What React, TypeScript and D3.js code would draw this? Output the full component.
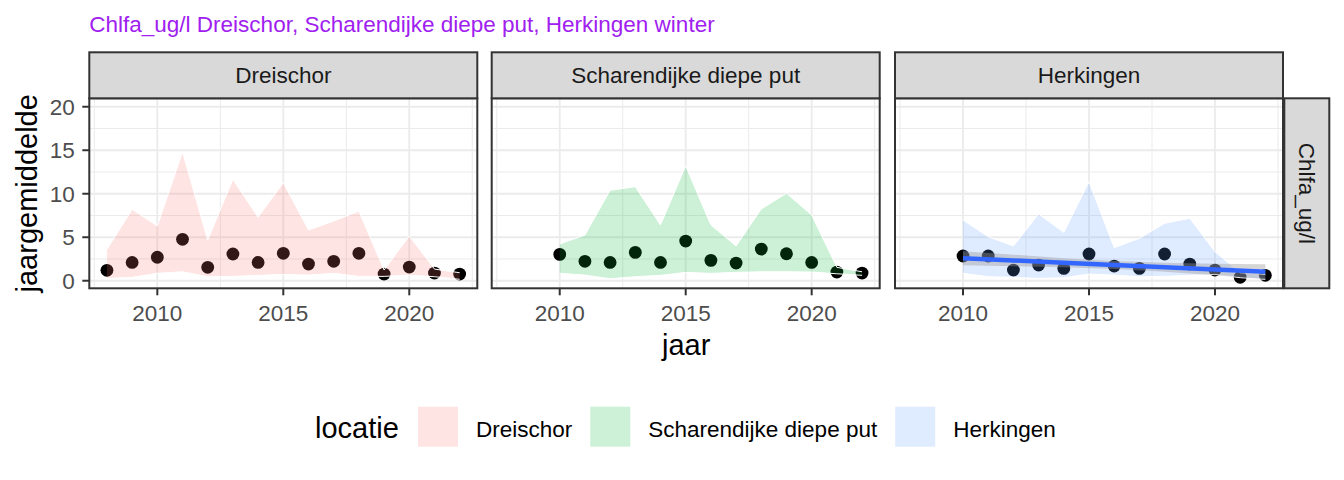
import React from "react";
import * as d3 from "d3";

// ---------- data ----------
const locations = ["Dreischor", "Scharendijke diepe put", "Herkingen"];
const locationColors = ["#F8766D", "#00BA38", "#619CFF"];

const dreischorYears = [2008, 2009, 2010, 2011, 2012, 2013, 2014, 2015, 2016, 2017, 2018, 2019, 2020, 2021, 2022];
const dreischorMean = [1.2, 2.1, 2.7, 4.76, 1.54, 3.07, 2.1, 3.15, 1.92, 2.23, 3.15, 0.77, 1.57, 0.88, 0.77];
const dreischorMax = [3.6, 8.2, 6.3, 14.8, 4.68, 11.65, 7.3, 11.27, 5.83, 6.86, 8.0, 1.23, 5.14, 1.34, 0.92];
const dreischorMin = [0.27, 0.39, 0.85, 1.03, 0.46, 0.5, 0.62, 0.73, 0.65, 0.85, 0.5, 0.5, 0.65, 0.46, 0.16];

const scharYears = [2010, 2011, 2012, 2013, 2014, 2015, 2016, 2017, 2018, 2019, 2020, 2021, 2022];
const scharMean = [3.03, 2.23, 2.1, 3.26, 2.1, 4.56, 2.34, 2.03, 3.64, 3.1, 2.1, 1.0, 0.88];
const scharMax = [4.22, 5.25, 10.4, 10.8, 6.4, 13.2, 6.4, 4.0, 8.24, 10.05, 7.55, 1.54, 1.03];
const scharMin = [0.85, 0.65, 0.23, 0.46, 0.62, 0.96, 0.85, 0.96, 1.03, 1.03, 1.0, 0.8, 0.62];

const herkYears = [2010, 2011, 2012, 2013, 2014, 2015, 2016, 2017, 2018, 2019, 2020, 2021, 2022];
const herkMean = [2.84, 2.84, 1.23, 1.8, 1.42, 3.07, 1.69, 1.42, 3.07, 1.92, 1.23, 0.39, 0.62];
const herkMax = [6.98, 5.06, 3.99, 7.67, 5.56, 11.38, 3.8, 4.87, 6.6, 7.17, 3.34, 0.92, 0.73];
const herkMin = [0.85, 0.46, 0.39, 0.27, 0.35, 0.77, 0.65, 0.46, 0.5, 0.62, 0.73, 0.35, 0.16];

// linear trend (geom_smooth, method lm) for Herkingen
const trendYears = [2010, 2012, 2014, 2016, 2018, 2020, 2022];
const trendFit = [2.59, 2.33, 2.07, 1.81, 1.55, 1.29, 1.03];
const trendLow = [1.78, 1.66, 1.55, 1.35, 1.03, 0.62, 0.2];
const trendHigh = [3.4, 3.0, 2.59, 2.27, 2.07, 1.96, 1.9];

const xTicks = [2010, 2015, 2020];
const xMinor = [2007.5, 2012.5, 2017.5, 2022.5];
const yTicks = [0, 5, 10, 15, 20];
const yMinor = [2.5, 7.5, 12.5, 17.5];

const titleText = "Chlfa_ug/l Dreischor, Scharendijke diepe put, Herkingen winter";
const stripRightText = "Chlfa_ug/l";
const xTitle = "jaar";
const yTitle = "jaargemiddelde";
const legendTitle = "locatie";

// ---------- layout ----------
const W = 1344;
const H = 480;
const FONT = "'Liberation Sans', Arial, Helvetica, sans-serif";
const FS = 22.5;
const FS_TITLE = 29;
const panelTop = 98.3;
const panelBottom = 288.3;
const panelW = 388;
const panelLefts = [89.3, 491.7, 895];
const stripTop = 52.3;
const rightStripX = 1284.3;
const rightStripW = 45;

const series = [
  { years: dreischorYears, mean: dreischorMean, max: dreischorMax, min: dreischorMin },
  { years: scharYears, mean: scharMean, max: scharMax, min: scharMin },
  { years: herkYears, mean: herkMean, max: herkMax, min: herkMin },
];

const x = d3.scaleLinear().domain([2007.3, 2022.7]).range([0, panelW]);
const y = d3.scaleLinear().domain([-0.87, 20.97]).range([panelBottom, panelTop]);

function measure(text: string, size: number): number {
  if (typeof document === "undefined") return text.length * size * 0.5;
  const c = document.createElement("canvas").getContext("2d");
  if (!c) return text.length * size * 0.5;
  c.font = `${size}px 'Liberation Sans', Arial, sans-serif`;
  return c.measureText(text).width;
}

function Panel({ idx }: { idx: number }) {
  const left = panelLefts[idx];
  const s = series[idx];
  const rows = s.years.map((yr, i) => ({ yr, mean: s.mean[i], max: s.max[i], min: s.min[i] }));
  const area = d3
    .area<any>()
    .x((d) => x(d.yr))
    .y0((d) => y(d.min))
    .y1((d) => y(d.max));
  const upper = d3.line<any>().x((d) => x(d.yr)).y((d) => y(d.max));
  const lower = d3.line<any>().x((d) => x(d.yr)).y((d) => y(d.min));
  const clipId = `clip${idx}`;
  const trendRows = trendYears.map((yr, i) => ({ yr, fit: trendFit[i], lo: trendLow[i], hi: trendHigh[i] }));
  const trendArea = d3.area<any>().x((d) => x(d.yr)).y0((d) => y(d.lo)).y1((d) => y(d.hi));
  const trendLine = d3.line<any>().x((d) => x(d.yr)).y((d) => y(d.fit));

  return (
    <g transform={`translate(${left},0)`}>
      <defs>
        <clipPath id={clipId}>
          <rect x={0} y={panelTop} width={panelW} height={panelBottom - panelTop} />
        </clipPath>
      </defs>
      <rect x={0} y={panelTop} width={panelW} height={panelBottom - panelTop} fill="#FFFFFF" />
      <g clipPath={`url(#${clipId})`}>
        {xMinor.map((t) => (
          <line key={"xm" + t} x1={x(t)} x2={x(t)} y1={panelTop} y2={panelBottom} stroke="#EBEBEB" strokeWidth={1} />
        ))}
        {yMinor.map((t) => (
          <line key={"ym" + t} x1={0} x2={panelW} y1={y(t)} y2={y(t)} stroke="#EBEBEB" strokeWidth={1} />
        ))}
        {xTicks.map((t) => (
          <line key={"xg" + t} x1={x(t)} x2={x(t)} y1={panelTop} y2={panelBottom} stroke="#EBEBEB" strokeWidth={1.8} />
        ))}
        {yTicks.map((t) => (
          <line key={"yg" + t} x1={0} x2={panelW} y1={y(t)} y2={y(t)} stroke="#EBEBEB" strokeWidth={1.8} />
        ))}
        {rows.map((d) => (
          <circle key={"p" + d.yr} cx={x(d.yr)} cy={y(d.mean)} r={6.4} fill="#000000" />
        ))}
        <path d={area(rows) || ""} fill={locationColors[idx]} fillOpacity={0.2} stroke="none" />
        <path d={upper(rows) || ""} fill="none" stroke="#FFFFFF" strokeWidth={1} />
        <path d={lower(rows) || ""} fill="none" stroke="#FFFFFF" strokeWidth={1} />
        {idx === 2 && (
          <g>
            <path d={trendArea(trendRows) || ""} fill="#999999" fillOpacity={0.4} />
            <path d={trendLine(trendRows) || ""} fill="none" stroke="#3366FF" strokeWidth={4.5} />
          </g>
        )}
      </g>
      <rect x={0} y={panelTop} width={panelW} height={panelBottom - panelTop} fill="none" stroke="#333333" strokeWidth={2} />
      {/* strip */}
      <rect x={0} y={stripTop} width={panelW} height={panelTop - stripTop} fill="#D9D9D9" stroke="#333333" strokeWidth={2} />
      <text x={panelW / 2} y={(stripTop + panelTop) / 2} dy="0.36em" textAnchor="middle" fontSize={FS} fill="#1A1A1A" fontFamily={FONT}>
        {locations[idx]}
      </text>
      {/* x axis */}
      {xTicks.map((t) => (
        <g key={"xt" + t}>
          <line x1={x(t)} x2={x(t)} y1={panelBottom} y2={panelBottom + 7} stroke="#333333" strokeWidth={2} />
          <text x={x(t)} y={320.5} textAnchor="middle" fontSize={FS} fill="#4D4D4D" fontFamily={FONT}>
            {t}
          </text>
        </g>
      ))}
    </g>
  );
}

export default function App() {
  const legendTitleX = 315;
  const keyW = 40;
  const keyGap = 18;
  const itemGap = 18;
  let cursor = 418;
  const items = locations.map((loc, i) => {
    const keyX = cursor;
    const labelX = keyX + keyW + keyGap;
    const w = measure(loc, FS);
    cursor = labelX + w + itemGap;
    return { loc, keyX, labelX, color: locationColors[i] };
  });
  const plotMid = (panelLefts[0] + panelLefts[2] + panelW) / 2;
  const panelMidY = (panelTop + panelBottom) / 2;

  return (
    <svg
      width={W}
      height={H}
      viewBox={`0 0 ${W} ${H}`}
      style={{ position: "absolute", left: 0, top: 0, background: "#FFFFFF" }}
      fontFamily={FONT}
    >
      <rect x={0} y={0} width={W} height={H} fill="#FFFFFF" />
      <text x={89.3} y={32} fontSize={FS} fill="#A020F0" fontFamily={FONT}>
        {titleText}
      </text>

      {[0, 1, 2].map((i) => (
        <Panel key={i} idx={i} />
      ))}

      {/* y axis on first panel */}
      {yTicks.map((t) => (
        <g key={"yt" + t}>
          <line x1={panelLefts[0] - 7} x2={panelLefts[0]} y1={y(t)} y2={y(t)} stroke="#333333" strokeWidth={2} />
          <text x={panelLefts[0] - 14.5} y={y(t)} dy="0.36em" textAnchor="end" fontSize={FS} fill="#4D4D4D" fontFamily={FONT}>
            {t}
          </text>
        </g>
      ))}

      {/* right strip */}
      <rect x={rightStripX} y={panelTop} width={rightStripW} height={panelBottom - panelTop} fill="#D9D9D9" stroke="#333333" strokeWidth={2} />
      <text
        transform={`translate(${rightStripX + rightStripW / 2},${panelMidY}) rotate(90)`}
        dy="0.36em"
        textAnchor="middle"
        fontSize={FS}
        fill="#1A1A1A"
        fontFamily={FONT}
      >
        {stripRightText}
      </text>

      {/* axis titles */}
      <text x={plotMid} y={355} textAnchor="middle" fontSize={FS_TITLE} fill="#000000" fontFamily={FONT}>
        {xTitle}
      </text>
      <text
        transform={`translate(37,${panelMidY}) rotate(-90)`}
        textAnchor="middle"
        fontSize={FS_TITLE}
        fill="#000000"
        fontFamily={FONT}
      >
        {yTitle}
      </text>

      {/* legend */}
      <text x={legendTitleX} y={438.3} fontSize={FS_TITLE} fill="#000000" fontFamily={FONT}>
        {legendTitle}
      </text>
      {items.map((it) => (
        <g key={it.loc}>
          <rect x={it.keyX} y={406.7} width={keyW} height={40} fill={it.color} fillOpacity={0.2} />
          <text x={it.labelX} y={437.3} fontSize={FS} fill="#000000" fontFamily={FONT}>
            {it.loc}
          </text>
        </g>
      ))}
    </svg>
  );
}
